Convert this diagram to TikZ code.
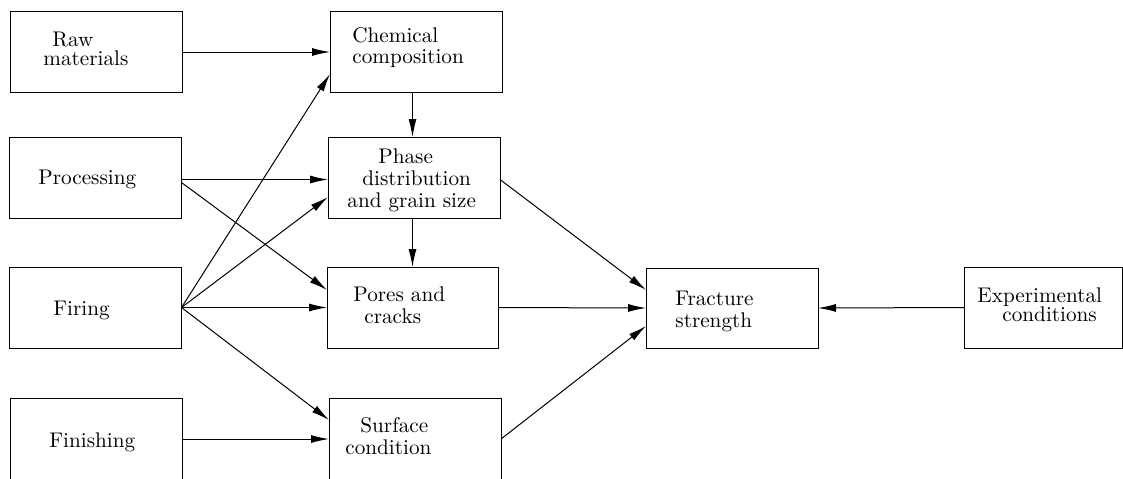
\documentclass[tikz,border=0pt]{standalone}
\usetikzlibrary{arrows.meta,calc}
\begin{document}
\begin{tikzpicture}[x=0.5pt,y=-0.5pt,
  box/.style={draw=black, line width=0.5pt, minimum width=86pt, minimum height=40.5pt, inner sep=0pt, outer sep=0pt, anchor=north west},
  lbl/.style={anchor=base west, inner sep=0pt, font=\fontsize{10.6}{11}\selectfont},
  arr/.style={-{Latex[length=9pt,width=4pt]}, line width=0.5pt}]
\clip (0,0) rectangle (1123,478);
% boxes
\node[box] (raw) at (10.5,11.5) {};
\node[box] (chem) at (330,11.5) {};
\node[box] (proc) at (9.5,137) {};
\node[box] (phase) at (328,137) {};
\node[box] (firing) at (9.5,267) {};
\node[box, minimum width=85.5pt] (pores) at (327,267) {};
\node[box, minimum height=41pt] (finish) at (10,398) {};
\node[box, minimum height=41pt] (surface) at (329,398) {};
\node[box, minimum height=40pt] (fract) at (646,268) {};
\node[box, minimum width=79.25pt] (exp) at (964,267) {};
% texts
\node[lbl] (t1) at (52,46) {Raw};
\node[lbl] (t2) at (43,65) {materials};
\node[lbl] (t3) at (352,42) {Chemical};
\node[lbl] (t4) at (352,63) {composition};
\node[lbl] (t5) at (38,184) {Processing};
\node[lbl] (t6) at (378,163) {Phase};
\node[lbl] (t7) at (362,185) {distribution};
\node[lbl] (t8) at (347,207) {and grain size};
\node[lbl] (t9) at (53,315) {Firing};
\node[lbl] (t10) at (353,301) {Pores and};
\node[lbl] (t11) at (364,323) {cracks};
\node[lbl] (t12) at (49,447) {Finishing};
\node[lbl] (t13) at (360,432) {Surface};
\node[lbl] (t14) at (345,454) {condition};
\node[lbl] (t15) at (675,305) {Fracture};
\node[lbl] (t16) at (675,327) {strength};
\node[lbl] (t17) at (977,302) {Experimental};
\node[lbl] (t18) at (1002,321) {conditions};
% connectors
\draw[arr] (raw.east) -- (chem.west);
\draw[arr] (chem.south -| pores.north) -- (phase.north -| pores.north);
\draw[arr] ([yshift=-1pt]proc.east) -- ([yshift=-1pt]phase.west);
\draw[arr] ([yshift=-2.5pt]proc.east) -- ([yshift=8.75pt]pores.west);
\draw[arr] (firing.east) -- ([yshift=-11pt]chem.west);
\draw[arr] (firing.east) -- ([yshift=-9.75pt]phase.west);
\draw[arr] (firing.east) -- (pores.west);
\draw[arr] (firing.east) -- ([yshift=9.5pt]surface.west);
\draw[arr] (finish.east) -- (surface.west);
\draw[arr] (phase.south -| pores.north) -- (pores.north);
\draw[arr] ([yshift=-1pt]phase.east) -- ([yshift=9pt]fract.west);
\draw[arr] (pores.east) -- (fract.west);
\draw[arr] (surface.east) -- ([yshift=-9pt]fract.west);
\draw[arr] (exp.west) -- (fract.east);
\end{tikzpicture}
\end{document}
